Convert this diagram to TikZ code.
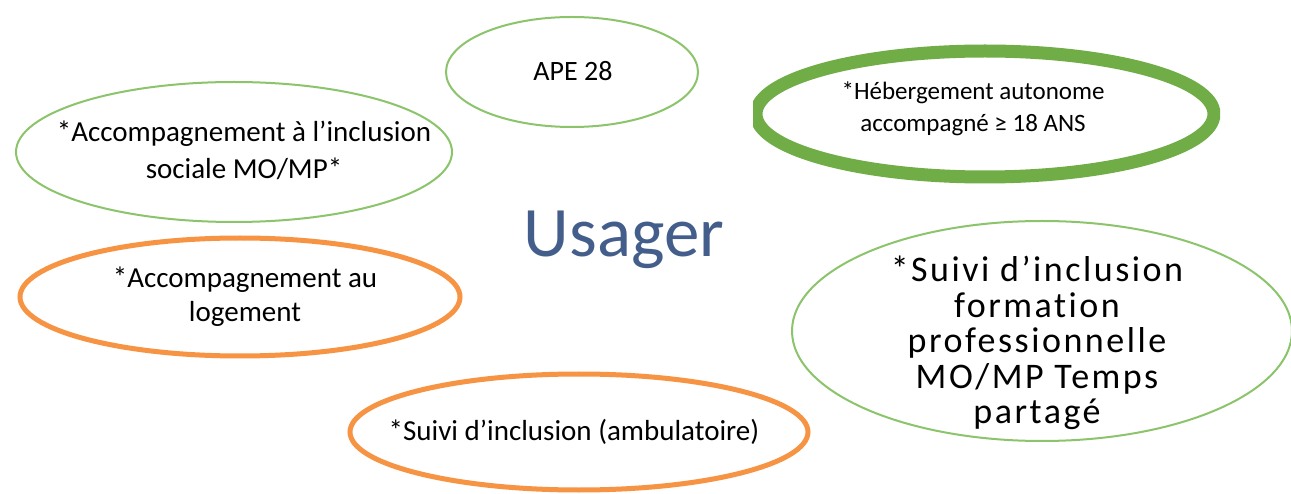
\documentclass[tikz,border=0pt]{standalone}
\usepackage{fontspec}
\setmainfont{Carlito}
\newfontfamily\widefont[LetterSpace=7,Ligatures={NoCommon}]{Carlito}
\definecolor{thingreen}{RGB}{140,196,108}
\definecolor{thickgreen}{RGB}{112,173,71}
\definecolor{orangeline}{RGB}{246,148,68}
\definecolor{usagerblue}{RGB}{68,94,140}
\tikzset{
  thinell/.style={draw=thingreen,line width=2pt},
  orangeell/.style={draw=orangeline,line width=5pt},
  thickell/.style={draw=thickgreen,line width=13pt},
  lbl/.style={align=center,inner sep=0pt,text=black},
}
\begin{document}
\begin{tikzpicture}[x=1pt,y=-1pt]
\useasboundingbox (0,0) rectangle (1291,494);
\fill[white] (0,0) rectangle (1291,494);
% ellipses
\draw[thinell] (572,72) ellipse [x radius=126, y radius=55];
\draw[thinell] (234,152) ellipse [x radius=218, y radius=70];
\draw[orangeell] (240,297) ellipse [x radius=220, y radius=59];
\draw[orangeell] (579,432) ellipse [x radius=229, y radius=58];
\draw[thinell] (1042,331) ellipse [x radius=250, y radius=110];
\begin{scope}
  \clip (753,0) rectangle (1220,494);
  \draw[thickell] (985,114) ellipse [x radius=229, y radius=63];
\end{scope}
% texts
\node[lbl,font=\fontsize{28}{34}\selectfont] (ape) at (573,71) {APE 28};
\node[lbl,font=\fontsize{29}{37}\selectfont] (sociale) at (244,150) {*Accompagnement à l’inclusion\\sociale MO/MP*};
\node[lbl,font=\fontsize{29}{34}\selectfont] (logement) at (245,297) {*Accompagnement au\\logement};
\node[lbl,font=\fontsize{29}{34}\selectfont] (ambu) at (574,432) {*Suivi d’inclusion (ambulatoire)};
\node[lbl,font=\fontsize{25}{32}\selectfont] (heberg) at (973,109) {*Hébergement autonome\\accompagné ≥ 18 ANS};
\node[lbl,font=\widefont\fontsize{36}{35.5}\selectfont] (formation) at (1037,343) {*Suivi d’inclusion\\formation\\professionnelle\\MO/MP Temps\\partagé};
\node[anchor=base,inner sep=0pt,text=usagerblue,font=\fontsize{71}{80}\selectfont] (usager) at (624,257) {Usager};
\end{tikzpicture}
\end{document}
